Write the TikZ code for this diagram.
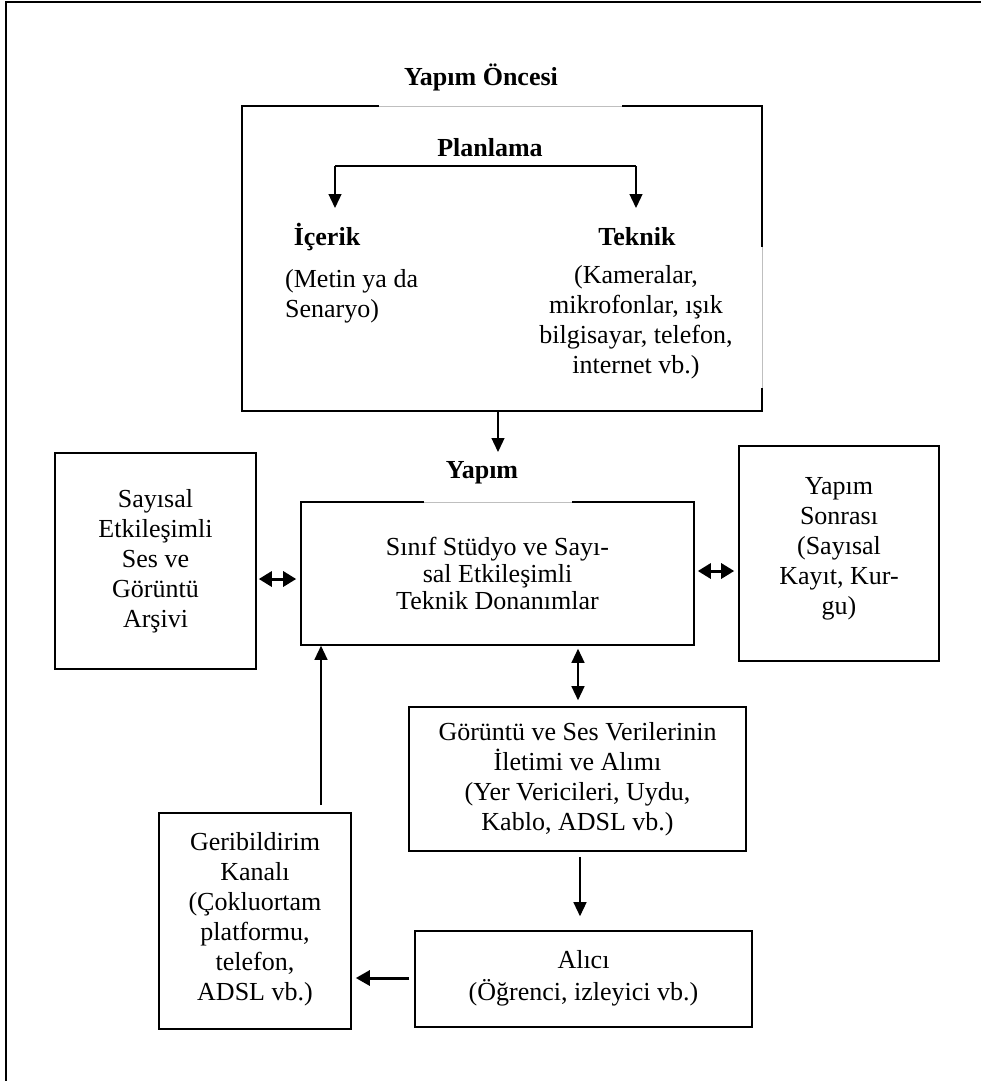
\documentclass[tikz,border=0pt]{standalone}
\usepackage{fontspec}
\setmainfont{Liberation Serif}
\usetikzlibrary{arrows.meta}
\begin{document}
\begin{tikzpicture}[x=1pt,y=-1pt,
  txt/.style={font=\fontsize{26}{30}\selectfont, align=center, inner sep=0pt},
  btxt/.style={font=\fontsize{26}{30}\selectfont\bfseries, inner sep=0pt},
  box/.style={draw, line width=1.6pt, font=\fontsize{26}{30}\selectfont, align=center, inner sep=0pt},
  arr/.style={line width=1.3pt, -{Triangle[length=14pt,width=13pt]}},
  darr/.style={line width=3pt, {Triangle[length=13pt,width=15pt]}-{Triangle[length=13pt,width=15pt]}},
  gapline/.style={draw=black!25, line width=0.6pt}
]
\useasboundingbox (0,0) rectangle (980,1081);
% outer frame
\draw[line width=1.8pt] (6,1085) -- (6,2) -- (985,2);

% titles
\node[btxt] (tpre) at (481,77) {Yapım Öncesi};
\node[btxt] (tyap) at (482,473) {Yapım};

% top box
\node[box, minimum width=520pt, minimum height=305pt] (pre) at (502,258.5) {};
\draw[white, line width=2.4pt] (379,106) -- (622,106);
\draw[gapline] (379,106) -- (622,106);
\draw[white, line width=2.4pt] (762,247) -- (762,388);
\draw[gapline] (762,247) -- (762,388);

\node[btxt] (plan) at (490,148) {Planlama};
\node[btxt] (icerik) at (327,237) {İçerik};
\node[btxt] (teknik) at (637,237) {Teknik};
\node[txt, align=left, anchor=west] (metin) at (285,296) {(Metin ya da\\Senaryo)};
\node[txt] (tekd) at (636,322) {(Kameralar,\\mikrofonlar, ışık\\bilgisayar, telefon,\\internet vb.)};

\coordinate (bl) at (335,166);
\coordinate (br) at (636,166);
\coordinate (blt) at (335,208);
\coordinate (brt) at (636,208);
\draw[line width=1.3pt] (bl) -- (br);
\draw[arr] (bl) -- (blt);
\draw[arr] (br) -- (brt);

% middle row
\node[box, minimum width=393pt, minimum height=143pt, font=\fontsize{26}{27}\selectfont] (studio) at (497.5,573.5)
  {Sınıf Stüdyo ve Sayı-\\sal Etkileşimli\\Teknik Donanımlar};
\draw[white, line width=2.4pt] (424,502) -- (572,502);
\draw[gapline] (424,502) -- (572,502);

\node[box, minimum width=201pt, minimum height=216pt] (arch) at (155.5,561)
  {Sayısal\\Etkileşimli\\Ses ve\\Görüntü\\Arşivi};
\node[box, minimum width=200pt, minimum height=215pt] (post) at (839,553.5)
  {Yapım\\Sonrası\\(Sayısal\\Kayıt, Kur-\\gu)\\[-15pt]};

% lower boxes
\node[box, minimum width=337pt, minimum height=144pt] (trans) at (577.5,779)
  {Görüntü ve Ses Verilerinin\\İletimi ve Alımı\\(Yer Vericileri, Uydu,\\Kablo, ADSL vb.)};
\node[box, minimum width=337pt, minimum height=96pt] (alici) at (583.5,979)
  {Alıcı\\[2pt](Öğrenci, izleyici vb.)\\[-22pt]};
\node[box, minimum width=192pt, minimum height=216pt] (feed) at (255,921)
  {Geribildirim\\Kanalı\\(Çokluortam\\platformu,\\telefon,\\ADSL vb.)\\[-20pt]};

% connectors
\coordinate (preout) at (498,411);
\coordinate (yapin) at (498,452);
\draw[arr] (preout) -- (yapin);

\draw[darr, shorten <=2pt, shorten >=4pt] (arch.east |- 0,579) -- (studio.west |- 0,579);
\draw[darr, shorten <=3pt, shorten >=4pt] (studio.east |- 0,571) -- (post.west |- 0,571);
\draw[line width=1.3pt, {Triangle[length=14pt,width=13pt]}-{Triangle[length=14pt,width=13pt]}, shorten <=3pt, shorten >=6pt]
  (studio.south -| 578,0) -- (trans.north -| 578,0);
\draw[arr, shorten <=5pt, shorten >=14pt] (trans.south -| 580,0) -- (alici.north -| 580,0);
\draw[line width=3pt, -{Triangle[length=14pt,width=15pt]}, shorten <=5pt, shorten >=4pt]
  (alici.west |- 0,978) -- (feed.east |- 0,978);
\draw[arr, shorten <=7pt] (feed.north -| 321,0) -- (studio.south -| 321,0);
\end{tikzpicture}
\end{document}
